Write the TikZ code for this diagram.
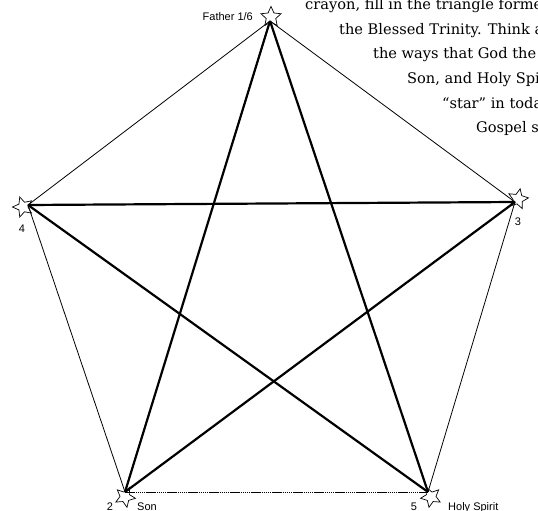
\documentclass[tikz,border=0pt]{standalone}
\usepackage{fontspec}
\setmainfont{DejaVu Serif}
\newfontfamily\labelfont{Liberation Sans}
\usetikzlibrary{shapes.geometric}
\begin{document}
\begin{tikzpicture}[x=1pt,y=-1pt,
  thinline/.style={line width=0.8pt},
  thickline/.style={line width=2.2pt},
  dotline/.style={line width=0.8pt,dash pattern=on 1.5pt off 0.6pt},
  starmark/.style={star,star points=5,star point ratio=2.1,minimum size=21pt,inner sep=0pt,draw,line width=0.7pt},
  lbl/.style={font=\labelfont\fontsize{11}{13}\selectfont,inner sep=0pt},
  txt/.style={font=\fontsize{14.6}{17}\selectfont,anchor=base west,inner sep=0pt}
]
\useasboundingbox (0,0) rectangle (538,511);
\coordinate (F) at (270,21);
\coordinate (T) at (515,202);
\coordinate (L) at (28,205);
\coordinate (S) at (125,492);
\coordinate (H) at (428,492);
% pentagon
\draw[thinline] (F) -- (T) -- (H);
\draw[thinline] (F) -- (L) -- (S);
\draw[dotline] (S) -- (H);
% pentagram
\draw[thickline] (F) -- (S);
\draw[thickline] (F) -- (H);
\draw[thickline] (L) -- (T);
\draw[thickline] (L) -- (H);
\draw[thickline] (S) -- (T);
% stars
\node[starmark] (sF) at (271,17) {};
\node[starmark,rotate=-12] (sT) at (518,199) {};
\node[starmark,rotate=18] (sL) at (23,207) {};
\node[starmark,rotate=-25] (sS) at (125,497) {};
\node[starmark,rotate=25] (sH) at (431,497) {};
% labels
\node[lbl,anchor=base east] (lF) at (253,21) {Father 1/6};
\node[lbl,anchor=base] (lT) at (518,225) {3};
\node[lbl,anchor=base] (lL) at (22,232) {4};
\node[lbl,anchor=base] (lS2) at (110,510) {2};
\node[lbl,anchor=base west] (lS) at (137,510) {Son};
\node[lbl,anchor=base] (lH5) at (414,510) {5};
\node[lbl,anchor=base west] (lH) at (448,510) {Holy Spirit};
% text
\begin{scope}
\clip (0,0) rectangle (538,511);
\node[txt] (t1) at (305,10) {crayon, fill in the triangle forme};
\node[txt] (t2) at (339,35) {the Blessed Trinity. Think a};
\node[txt] (t3) at (373,59) {the ways that God the};
\node[txt] (t4) at (407,83) {Son, and Holy Spi};
\node[txt] (t5) at (442,108) {“star” in toda};
\node[txt] (t6) at (476,132) {Gospel s};
\end{scope}
\end{tikzpicture}
\end{document}
